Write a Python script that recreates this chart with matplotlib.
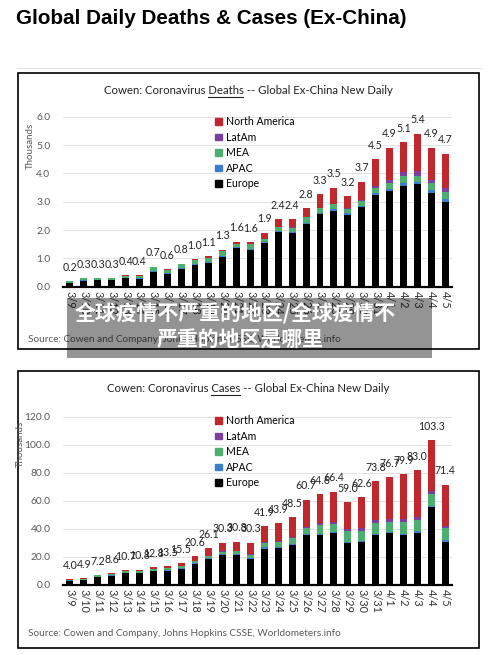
import matplotlib
matplotlib.use("Agg")
import matplotlib.pyplot as plt
from matplotlib.patches import Rectangle, Patch
from matplotlib.lines import Line2D
import numpy as np

# -----------------------------
# data
# -----------------------------
dates = ["3/9", "3/10", "3/11", "3/12", "3/13", "3/14", "3/15", "3/16", "3/17", "3/18",
         "3/19", "3/20", "3/21", "3/22", "3/23", "3/24", "3/25", "3/26", "3/27", "3/28",
         "3/29", "3/30", "3/31", "4/1", "4/2", "4/3", "4/4", "4/5"]
regions = ["Europe", "APAC", "MEA", "LatAm", "North America"]

# deaths, thousands
deaths_total = [0.2, 0.3, 0.3, 0.3, 0.4, 0.4, 0.7, 0.6, 0.8, 1.0, 1.1, 1.3, 1.6, 1.6,
                1.9, 2.4, 2.4, 2.8, 3.3, 3.5, 3.2, 3.7, 4.5, 4.9, 5.1, 5.4, 4.9, 4.7]
deaths_europe = [0.12, 0.20, 0.22, 0.22, 0.30, 0.27, 0.52, 0.45, 0.62, 0.75, 0.82, 1.05, 1.35, 1.30,
                 1.55, 1.92, 1.89, 2.20, 2.55, 2.67, 2.53, 2.80, 3.22, 3.38, 3.57, 3.62, 3.32, 3.00]
deaths_apac = [0.02, 0.02, 0.02, 0.02, 0.02, 0.02, 0.03, 0.03, 0.03, 0.04, 0.04, 0.04, 0.04, 0.04,
               0.04, 0.05, 0.05, 0.05, 0.05, 0.06, 0.06, 0.06, 0.07, 0.07, 0.08, 0.08, 0.08, 0.08]
deaths_mea = [0.05, 0.07, 0.06, 0.06, 0.07, 0.09, 0.13, 0.12, 0.14, 0.16, 0.17, 0.16, 0.13, 0.16,
              0.10, 0.13, 0.14, 0.20, 0.17, 0.18, 0.17, 0.18, 0.18, 0.20, 0.25, 0.22, 0.25, 0.28]
deaths_latam = [0, 0, 0, 0, 0, 0, 0, 0, 0, 0, 0, 0, 0, 0,
                0.01, 0.01, 0.01, 0.01, 0.02, 0.02, 0.02, 0.03, 0.08, 0.10, 0.15, 0.18, 0.12, 0.14]
deaths_na = [0.01, 0.01, 0.01, 0.01, 0.01, 0.02, 0.02, 0.01, 0.02, 0.03, 0.04, 0.05, 0.07, 0.08,
             0.20, 0.28, 0.30, 0.32, 0.48, 0.57, 0.42, 0.63, 0.95, 1.15, 1.05, 1.30, 1.13, 1.20]

# cases, thousands
cases_total = [4.0, 4.9, 7.2, 8.6, 10.7, 10.8, 12.8, 13.5, 15.5, 20.6, 26.1, 30.3, 30.8, 30.3,
               41.9, 43.9, 48.5, 60.7, 64.6, 66.4, 59.0, 62.6, 73.8, 76.7, 79.9, 83.0, 103.3, 71.4]
cases_europe = [3.0, 3.6, 5.5, 6.6, 8.3, 8.3, 9.8, 10.2, 11.5, 15.0, 18.3, 21.2, 21.2, 18.6,
                26.0, 26.1, 28.3, 35.4, 35.4, 36.8, 29.7, 30.9, 35.4, 36.8, 35.4, 37.3, 55.4, 30.9]
cases_apac = [0.3, 0.3, 0.3, 0.3, 0.4, 0.4, 0.4, 0.4, 0.4, 0.5, 0.6, 0.6, 0.7, 0.9,
              0.8, 0.8, 0.9, 0.9, 1.0, 1.0, 1.0, 0.8, 1.0, 0.9, 1.0, 1.0, 1.0, 1.0]
cases_mea = [0.6, 0.7, 1.0, 1.1, 1.3, 1.2, 1.3, 1.4, 1.3, 1.6, 1.6, 2.0, 2.1, 2.0,
             3.2, 4.0, 4.3, 4.3, 6.6, 5.8, 7.5, 6.8, 8.0, 7.5, 8.8, 8.0, 8.5, 8.5]
cases_latam = [0, 0, 0, 0, 0, 0, 0, 0, 0.2, 0.3, 0.4, 0.5, 0.5, 0.5,
               0.6, 0.6, 0.7, 1.0, 1.5, 1.6, 1.7, 1.8, 2.0, 2.0, 2.2, 2.4, 2.2, 1.5]
cases_na = [0.1, 0.3, 0.4, 0.6, 0.7, 0.9, 1.3, 1.5, 2.1, 3.2, 5.2, 6.0, 6.3, 8.3,
            11.3, 12.4, 14.3, 19.1, 20.1, 21.2, 19.1, 22.3, 27.4, 29.5, 31.5, 33.3, 36.2, 29.5]

colors = {"Europe": "#000000", "APAC": "#3d7cc9", "MEA": "#4caf70",
          "LatAm": "#7b3fa0", "North America": "#c0282d"}

W, H = 500, 655
FONT = "Lato"
GRAY = "#595959"


def rect(x0, y0, x1, y1):
    # pixel box (top-left origin) -> figure fraction
    return [x0 / W, 1 - y1 / H, (x1 - x0) / W, (y1 - y0) / H]


def fx(x):
    return x / W


def fy(y):
    return 1 - y / H


fig = plt.figure(figsize=(W / 100, H / 100), dpi=100)
fig.patch.set_facecolor("white")
renderer = fig.canvas.get_renderer()

# page title + rule
fig.text(fx(16), fy(19), "Global Daily Deaths & Cases (Ex-China)", family="Liberation Sans",
         fontweight="bold", fontsize=14.9, va="center", ha="left", color="black")
fig.add_artist(Line2D([fx(17), fx(481)], [fy(68), fy(68)], color="#e3e3e3", lw=0.8))


def text_w(s, **kw):
    t = fig.text(0, 0, s, **kw)
    w = t.get_window_extent(renderer).width
    t.remove()
    return w


def panel(box, ax_box, title_y, word, series, totals, ymax, ystep, ylab_x, src_y, leg_y):
    # outer frame
    x0, y0, x1, y1 = box
    fig.add_artist(Rectangle((fx(x0), fy(y1)), (x1 - x0) / W, (y1 - y0) / H,
                             transform=fig.transFigure, fill=False, ec="black", lw=1.2))

    # title with underlined word
    kw = dict(family=FONT, fontsize=8.2, color="#222222")
    full = "Cowen: Coronavirus " + word + " -- Global Ex-China New Daily"
    cx = 248
    fig.text(fx(cx), fy(title_y), full, ha="center", va="center", **kw)
    w_full = text_w(full, **kw)
    w_pre = text_w("Cowen: Coronavirus " + word, **kw)
    w_word = text_w(word, **kw)
    left = cx - w_full / 2
    fig.add_artist(Line2D([fx(left + w_pre - w_word), fx(left + w_pre)],
                          [fy(title_y + 6), fy(title_y + 6)], color="#222222", lw=0.8))

    ax = fig.add_axes(rect(*ax_box))
    x = np.arange(len(dates))
    bottom = np.zeros(len(dates))
    for name, vals in zip(regions, series):
        ax.bar(x, vals, width=0.5, bottom=bottom, color=colors[name], label=name, zorder=3)
        bottom += np.array(vals)

    for i, v in enumerate(totals):
        ax.annotate(f"{v:.1f}", (x[i], bottom[i]), xytext=(0, 10), textcoords="offset points",
                    ha="center", va="center", family=FONT, fontsize=7.6, color="#222222")

    ax.set_xlim(-0.5, len(dates) - 0.5)
    ax.set_ylim(0, ymax)
    ticks = np.arange(0, ymax + ystep / 2, ystep)
    ax.set_yticks(ticks)
    ax.set_yticklabels([f"{t:.1f}" for t in ticks], family=FONT, fontsize=7.4, color=GRAY)
    ax.set_xticks(x)
    ax.set_xticklabels(dates, rotation=-90, family=FONT, fontsize=7.8, color="#333333")
    ax.tick_params(length=0, pad=3)
    ax.tick_params(axis="y", pad=9)
    ax.grid(axis="y", color="#e2e2e2", lw=0.7, zorder=0)
    for s in ["left", "right", "top"]:
        ax.spines[s].set_visible(False)
    ax.spines["bottom"].set_linewidth(1.6)
    ax.spines["bottom"].set_zorder(4)
    ax.set_facecolor("none")

    fig.text(fx(ylab_x), fy(146 if word == "Deaths" else 444), "Thousands", rotation=90,
             ha="center", va="center", family=FONT, fontsize=7, color=GRAY)

    handles = [Patch(color=colors[n], label=n) for n in reversed(regions)]
    ax.legend(handles=handles, loc="upper left", bbox_to_anchor=(fx(210), fy(leg_y)),
              bbox_transform=fig.transFigure, frameon=False, borderpad=0,
              handlelength=0.6, handleheight=0.6, handletextpad=0.4, labelspacing=0.42,
              prop={"family": FONT, "size": 7.6})

    fig.text(fx(28), fy(src_y), "Source: Cowen and Company, Johns Hopkins CSSE, Worldometers.info",
             ha="left", va="center", family=FONT, fontsize=7.2, color=GRAY)
    return ax


deaths = [deaths_europe, deaths_apac, deaths_mea, deaths_latam, deaths_na]
cases = [cases_europe, cases_apac, cases_mea, cases_latam, cases_na]

panel((18, 73, 479, 349), (63, 116.7, 452, 286.7), 90.5, "Deaths", deaths, deaths_total,
      6.0, 1.0, 30, 339, 111)
panel((18, 371, 479, 648), (63, 416.7, 452, 585), 389, "Cases", cases, cases_total,
      120.0, 20.0, 20, 634, 410)

# watermark overlay
fig.add_artist(Rectangle((fx(67), fy(358)), (432 - 67) / W, (358 - 298) / H,
                         transform=fig.transFigure, color="black", alpha=0.42, lw=0, zorder=10))
fig.text(fx(235), fy(314), "全球疫情不严重的地区/全球疫情不", ha="center", va="center",
         family=["Noto Sans CJK SC", "DejaVu Sans"], fontweight="bold", fontsize=15,
         color="white", zorder=11)
fig.text(fx(240), fy(340), "严重的地区是哪里", ha="center", va="center",
         family=["Noto Sans CJK SC", "DejaVu Sans"], fontweight="bold", fontsize=15,
         color="white", zorder=11)

fig.savefig("out.png", dpi=100)
